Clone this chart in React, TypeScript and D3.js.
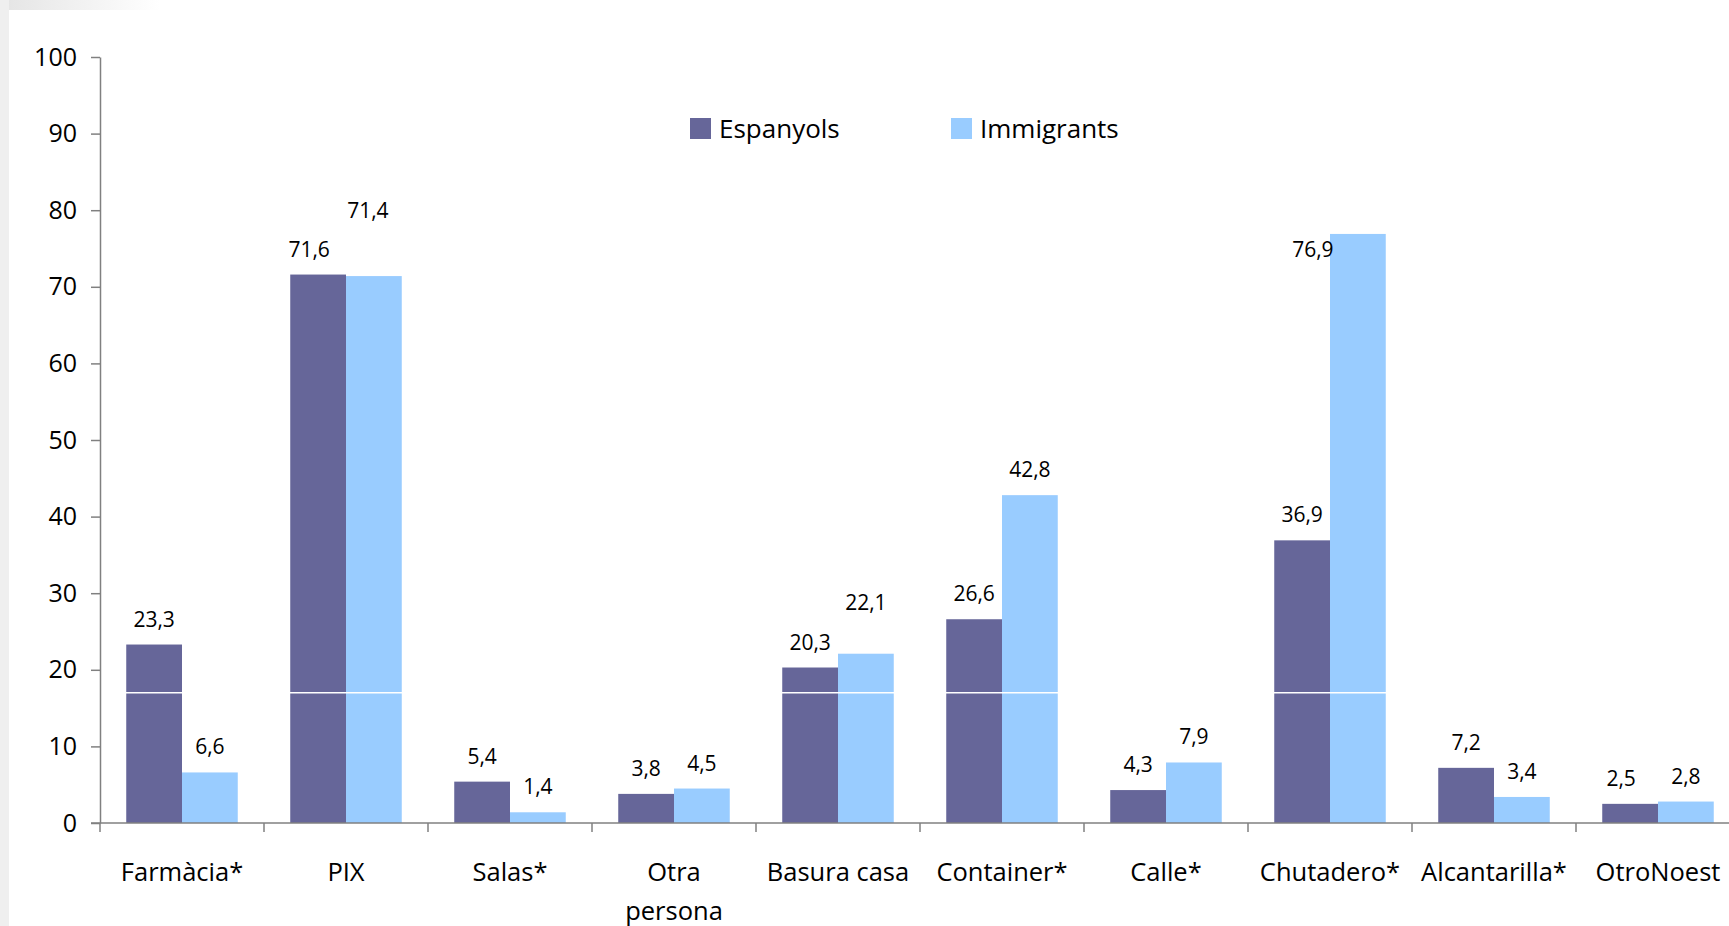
import React, { useEffect, useRef } from 'react';
import * as d3 from 'd3';

const categories = ['Farmàcia*', 'PIX', 'Salas*', 'Otra persona', 'Basura casa', 'Container*', 'Calle*', 'Chutadero*', 'Alcantarilla*', 'OtroNoest'];
const espanyols = [23.3, 71.6, 5.4, 3.8, 20.3, 26.6, 4.3, 36.9, 7.2, 2.5];
const immigrants = [6.6, 71.4, 1.4, 4.5, 22.1, 42.8, 7.9, 76.9, 3.4, 2.8];
const seriesNames = ['Espanyols', 'Immigrants'];
const yTicks = [0, 10, 20, 30, 40, 50, 60, 70, 80, 90, 100];

// hand-moved data labels, as in the original slide (px)
const labelNudge: Record<string, { dx: number; dy: number }> = {
  'PIX|0': { dx: -9, dy: 0 },
  'PIX|1': { dx: -6, dy: -40 },
  'Basura casa|1': { dx: 0, dy: -26 },
  'Chutadero*|1': { dx: -45, dy: 41 },
  'OtroNoest|0': { dx: -9, dy: 0 },
};

const W = 1729;
const H = 926;
const colors = ['#666699', '#99ccff'];
const font = '"Open Sans", "Noto Sans", sans-serif';

const App = () => {
  const ref = useRef<SVGSVGElement>(null);

  useEffect(() => {
    const svg = d3.select(ref.current);
    svg.selectAll('*').remove();

    // slide background with faint shadow at the top-left
    const defs = svg.append('defs');
    const g1 = defs.append('linearGradient').attr('id', 'topShade').attr('x1', 0).attr('x2', 1).attr('y1', 0).attr('y2', 0);
    g1.append('stop').attr('offset', '0%').attr('stop-color', '#e4e4e4');
    g1.append('stop').attr('offset', '100%').attr('stop-color', '#ffffff');
    svg.append('rect').attr('width', W).attr('height', H).attr('fill', '#fff');
    svg.append('rect').attr('x', 0).attr('y', 0).attr('width', 160).attr('height', 10).attr('fill', 'url(#topShade)');
    svg.append('rect').attr('x', 0).attr('y', 0).attr('width', 9).attr('height', H).attr('fill', '#efefef');

    const x0 = d3.scaleBand<string>().domain(categories).range([100, 1740]).paddingInner(0.32).paddingOuter(0.16);
    const x1 = d3.scaleBand<number>().domain([0, 1]).range([0, x0.bandwidth()]);
    const y = d3.scaleLinear().domain([0, 100]).range([823, 57]);

    const rows = categories.map((c, i) => ({ c, vals: [espanyols[i], immigrants[i]] }));

    // bars
    const groups = svg.append('g').selectAll('g').data(rows).enter().append('g')
      .attr('transform', (d) => `translate(${x0(d.c)},0)`);
    groups.selectAll('rect').data((d) => d.vals.map((v, s) => ({ v, s }))).enter().append('rect')
      .attr('x', (d) => x1(d.s)!)
      .attr('width', x1.bandwidth())
      .attr('y', (d) => y(d.v))
      .attr('height', (d) => y(0) - y(d.v))
      .attr('fill', (d) => colors[d.s]);

    // thin white rule across the chart (from the slide)
    svg.append('line').attr('x1', 100).attr('x2', W).attr('y1', y(17)).attr('y2', y(17))
      .attr('stroke', '#fff').attr('stroke-width', 1.5);

    // data labels
    rows.forEach((r) => {
      r.vals.forEach((v, s) => {
        const n = labelNudge[`${r.c}|${s}`] || { dx: 0, dy: 0 };
        svg.append('text')
          .attr('x', x0(r.c)! + x1(s)! + x1.bandwidth() / 2 + n.dx)
          .attr('y', y(v) - 18 + n.dy)
          .attr('text-anchor', 'middle')
          .attr('font-family', font)
          .attr('font-size', 21)
          .attr('fill', '#000')
          .text(d3.format('.1f')(v).replace('.', ','));
      });
    });

    // y axis
    const yAxis = svg.append('g').attr('transform', 'translate(100,0)')
      .call(d3.axisLeft(y).tickValues(yTicks).tickSize(9).tickSizeOuter(0).tickPadding(14));
    yAxis.select('.domain').attr('stroke', '#808080').attr('stroke-width', 1.5);
    yAxis.selectAll('.tick line').attr('stroke', '#808080').attr('stroke-width', 1.5);
    yAxis.selectAll('.tick text').attr('font-family', font).attr('font-size', 25).attr('fill', '#000');

    // x axis
    svg.append('line').attr('x1', 91).attr('x2', W).attr('y1', y(0)).attr('y2', y(0))
      .attr('stroke', '#808080').attr('stroke-width', 1.5);
    const tickXs = categories.map((c) => x0(c)! - x0.step() * x0.paddingOuter());
    tickXs.forEach((tx) => {
      svg.append('line').attr('x1', tx).attr('x2', tx).attr('y1', y(0)).attr('y2', y(0) + 9)
        .attr('stroke', '#808080').attr('stroke-width', 1.5);
    });

    // category labels, wrapped at spaces when too wide
    categories.forEach((c) => {
      const cx = x0(c)! + x0.bandwidth() / 2;
      const t = svg.append('text')
        .attr('x', cx).attr('y', 881)
        .attr('text-anchor', 'middle')
        .attr('font-family', font)
        .attr('font-size', 25.5)
        .attr('fill', '#000')
        .text(c);
      const len = (t.node() as SVGTextElement).getComputedTextLength();
      if (len > 150 && c.includes(' ')) {
        t.text(null);
        c.split(' ').forEach((w, k) => {
          t.append('tspan').attr('x', cx).attr('dy', k === 0 ? 0 : 39).text(w);
        });
      }
    });

    // legend
    const legendX = [690, 951];
    seriesNames.forEach((name, s) => {
      svg.append('rect').attr('x', legendX[s]).attr('y', 118).attr('width', 21).attr('height', 21).attr('fill', colors[s]);
      svg.append('text').attr('x', legendX[s] + 29).attr('y', 138)
        .attr('font-family', font).attr('font-size', 26).attr('fill', '#000').text(name);
    });
  }, []);

  return (
    <svg ref={ref} width={W} height={H} style={{ position: 'absolute', left: 0, top: 0, display: 'block' }} />
  );
};

export default App;
